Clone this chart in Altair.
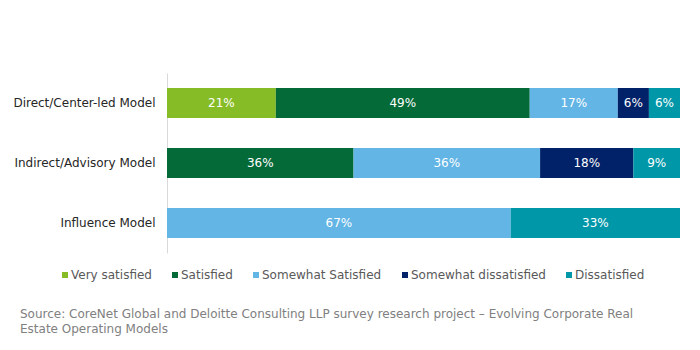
import altair as alt
import pandas as pd

models = ["Direct/Center-led Model", "Indirect/Advisory Model", "Influence Model"]
categories = ["Very satisfied", "Satisfied", "Somewhat Satisfied", "Somewhat dissatisfied", "Dissatisfied"]
colors = ["#86BC25", "#046A38", "#62B5E5", "#012169", "#0097A9"]

direct_vals = [21, 49, 17, 6, 6]
indirect_vals = [0, 36, 36, 18, 9]
influence_vals = [0, 0, 67, 0, 33]

rows = []
for m, vals in zip(models, [direct_vals, indirect_vals, influence_vals]):
    for i, (c, v) in enumerate(zip(categories, vals)):
        if v > 0:
            rows.append({"model": m, "category": c, "order": i, "value": v, "label": f"{v}%"})
df = pd.DataFrame(rows)

FONT = "DejaVu Sans"

base = alt.Chart(df).transform_stack(
    stack="value", groupby=["model"], as_=["x0", "x1"], offset="normalize",
    sort=[alt.SortField("order", order="ascending")]
).transform_calculate(mid="(datum.x0 + datum.x1) / 2")

y_enc = alt.Y("model:N", sort=models, title=None,
              scale=alt.Scale(paddingInner=0.5, paddingOuter=0.25),
              axis=alt.Axis(ticks=False, domain=True, domainColor="#D9D9D9", labelFont=FONT,
                            labelFontSize=12, labelColor="#262626", labelPadding=12,
                            grid=False))

bars = base.mark_bar().encode(
    x=alt.X("x0:Q", axis=None, scale=alt.Scale(domain=[0, 1], nice=False)),
    x2="x1:Q",
    y=y_enc,
    color=alt.Color("category:N", sort=categories,
                    scale=alt.Scale(domain=categories, range=colors),
                    legend=alt.Legend(title=None, orient="none", direction="horizontal",
                                      columns=5, legendX=-108, legendY=196,
                                      symbolType="square", symbolSize=36, symbolStrokeWidth=0,
                                      labelFont=FONT, labelFontSize=12, labelColor="#595959",
                                      labelOffset=0, columnPadding=17)),
)

labels = base.mark_text(color="white", font=FONT, fontSize=12).encode(
    x="mid:Q",
    y=alt.Y("model:N", sort=models),
    text="label:N",
)

chart = alt.layer(bars, labels).properties(
    width=513, height=180,
    autosize=alt.AutoSizeParams(type="none"),
    padding={"left": 167, "top": 73, "right": 20, "bottom": 97},
    title=alt.TitleParams(
        text=["Source: CoreNet Global and Deloitte Consulting LLP survey research project \u2013 Evolving Corporate Real",
              "Estate Operating Models"],
        orient="bottom", anchor="start", frame="group", dx=-147, offset=28,
        font=FONT, fontSize=12, fontWeight="normal", color="#808080", lineHeight=15,
    ),
).configure(background="white").configure_view(stroke=None)

chart.save("out.html", embed_options={"renderer": "svg", "actions": False})
